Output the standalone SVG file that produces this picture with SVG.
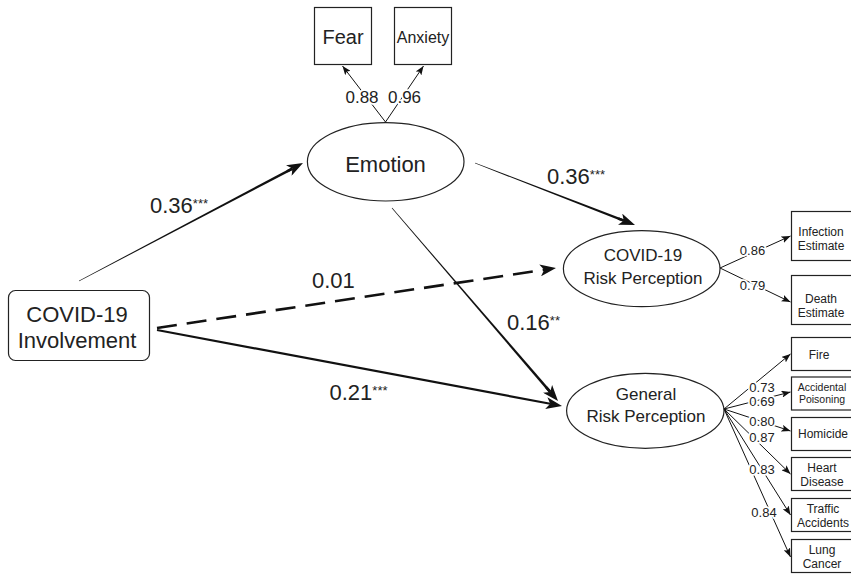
<svg xmlns="http://www.w3.org/2000/svg" width="851" height="576" viewBox="0 0 851 576">
<style>
text{font-family:"Liberation Sans",Arial,sans-serif;fill:#222;text-anchor:middle}
.node rect,.node ellipse{fill:#fff;stroke:#222;stroke-width:1.2}
.big{font-size:22px}
.mid{font-size:17px}
.sm{font-size:12px}
.xs{font-size:10.5px}
.ln{stroke:#111;fill:none}
.thin{stroke-width:1}
.body{fill:#111;stroke:none}
.lbl{text-anchor:start;font-size:22px}
.lbl tspan{font-size:13px}
.halo{stroke:#fff;stroke-width:3.5;paint-order:stroke;stroke-linejoin:round}
.l13{font-size:13px}
.l17{font-size:17px}
</style>
<defs>
<marker id="big" markerUnits="userSpaceOnUse" markerWidth="16" markerHeight="12" viewBox="0 0 16 12" refX="4" refY="6" orient="auto"><path d="M0,0 L16,6 L0,12 L4,6 Z" fill="#111"/></marker>
<marker id="sm" markerUnits="userSpaceOnUse" markerWidth="9" markerHeight="7" viewBox="0 0 9 7" refX="9" refY="3.5" orient="auto"><path d="M0,0 L9,3.5 L0,7 L2,3.5 Z" fill="#111"/></marker>
</defs>

<g id="connectors">
  <!-- Involvement -> Emotion (tapered) -->
  <path class="body" d="M78.86,280.73 L291.77,167.44 L292.99,169.74 L79.14,281.27 Z"/>
  <line class="ln" x1="287.07" y1="171.39" x2="292.38" y2="168.59" stroke-width="2.6" marker-end="url(#big)"/>
  <!-- Emotion -> COVID RP (tapered) -->
  <path class="body" d="M475.11,162.72 L624.28,219.45 L623.34,221.87 L474.89,163.28 Z"/>
  <line class="ln" x1="618.22" y1="218.49" x2="623.81" y2="220.66" stroke-width="2.6" marker-end="url(#big)"/>
  <!-- Emotion -> General RP (tapered) -->
  <path class="body" d="M392.23,207.80 L551.17,391.05 L549.19,392.75 L391.77,208.20 Z"/>
  <line class="ln" x1="546.27" y1="387.35" x2="550.18" y2="391.90" stroke-width="2.6" marker-end="url(#big)"/>
  <!-- Involvement -> COVID RP (dashed) -->
  <line class="ln" x1="157" y1="328" x2="544.13" y2="269.78" stroke-width="2.6" stroke-dasharray="20 10" marker-end="url(#big)"/>
  <!-- Involvement -> General RP -->
  <line class="ln" x1="157" y1="330" x2="550.21" y2="403.79" stroke-width="2.2" marker-end="url(#big)"/>

  <!-- Emotion indicators -->
  <line class="ln thin" x1="385.5" y1="122" x2="342.5" y2="66" marker-end="url(#sm)"/>
  <line class="ln thin" x1="385.5" y1="122" x2="423.5" y2="66" marker-end="url(#sm)"/>
  <!-- COVID RP indicators -->
  <line class="ln thin" x1="720" y1="268" x2="790.5" y2="236" marker-end="url(#sm)"/>
  <line class="ln thin" x1="720" y1="268" x2="790.5" y2="302" marker-end="url(#sm)"/>
  <!-- General RP indicators -->
  <line class="ln thin" x1="724" y1="409" x2="790.5" y2="354" marker-end="url(#sm)"/>
  <line class="ln thin" x1="724" y1="409" x2="790.5" y2="392" marker-end="url(#sm)"/>
  <line class="ln thin" x1="724" y1="409" x2="790.5" y2="431" marker-end="url(#sm)"/>
  <line class="ln thin" x1="724" y1="409" x2="790.5" y2="474" marker-end="url(#sm)"/>
  <line class="ln thin" x1="724" y1="409" x2="790.5" y2="515" marker-end="url(#sm)"/>
  <line class="ln thin" x1="724" y1="409" x2="790.5" y2="557" marker-end="url(#sm)"/>
</g>

<g id="edge-labels">
  <text class="lbl" x="150" y="213">0.36<tspan dy="-5">***</tspan></text>
  <text class="lbl" x="547" y="183.5">0.36<tspan dy="-5">***</tspan></text>
  <text class="lbl" x="312" y="288">0.01</text>
  <text class="lbl" x="507" y="330">0.16<tspan dy="-5">**</tspan></text>
  <text class="lbl" x="329.5" y="400">0.21<tspan dy="-5">***</tspan></text>

  <text class="l17 halo" x="362" y="102.5">0.88</text>
  <text class="l17 halo" x="404.5" y="102.5">0.96</text>

  <text class="l13 halo" x="752.5" y="255">0.86</text>
  <text class="l13 halo" x="752.5" y="290">0.79</text>

  <text class="l13 halo" x="762" y="392">0.73</text>
  <text class="l13 halo" x="762" y="405.5">0.69</text>
  <text class="l13 halo" x="762" y="426">0.80</text>
  <text class="l13 halo" x="762" y="442">0.87</text>
  <text class="l13 halo" x="762" y="474">0.83</text>
  <text class="l13 halo" x="764" y="516.5">0.84</text>
</g>

<g id="n-fear" class="node">
  <rect x="314.5" y="7.5" width="57" height="57"/>
  <text x="343" y="44" font-size="20">Fear</text>
</g>
<g id="n-anxiety" class="node">
  <rect x="394.5" y="7.5" width="57" height="57"/>
  <text x="423" y="42.5" font-size="16">Anxiety</text>
</g>
<g id="n-emotion" class="node">
  <ellipse cx="385.7" cy="161.8" rx="78.3" ry="39.2"/>
  <text class="big" x="385.5" y="171.5">Emotion</text>
</g>
<g id="n-involvement" class="node">
  <rect x="8.5" y="290.5" width="141" height="70" rx="7"/>
  <text class="big" x="77"><tspan x="77" y="321.5">COVID-19</tspan><tspan x="77" y="348">Involvement</tspan></text>
</g>
<g id="n-covidrp" class="node">
  <ellipse cx="641.7" cy="268.7" rx="78.3" ry="38"/>
  <text class="mid"><tspan x="643" y="260.5">COVID-19</tspan><tspan x="643" y="283.5">Risk Perception</tspan></text>
</g>
<g id="n-generalrp" class="node">
  <ellipse cx="645.3" cy="410.8" rx="78.7" ry="37.5"/>
  <text class="mid"><tspan x="646" y="400">General</tspan><tspan x="646" y="422">Risk Perception</tspan></text>
</g>
<g id="n-infection" class="node">
  <rect x="791.5" y="211.5" width="62" height="49"/>
  <text class="sm"><tspan x="821" y="236">Infection</tspan><tspan x="821" y="249.5">Estimate</tspan></text>
</g>
<g id="n-death" class="node">
  <rect x="791.5" y="275.5" width="62" height="49"/>
  <text class="sm"><tspan x="821" y="303">Death</tspan><tspan x="821" y="317">Estimate</tspan></text>
</g>
<g id="n-fire" class="node">
  <rect x="791.5" y="337.5" width="62" height="33"/>
  <text class="sm" x="819" y="358.5">Fire</text>
</g>
<g id="n-poisoning" class="node">
  <rect x="791.5" y="377" width="62" height="33"/>
  <text class="xs"><tspan x="822" y="390.5">Accidental</tspan><tspan x="822" y="402.5">Poisoning</tspan></text>
</g>
<g id="n-homicide" class="node">
  <rect x="791.5" y="417.5" width="62" height="33"/>
  <text class="sm" x="823" y="437.5">Homicide</text>
</g>
<g id="n-heart" class="node">
  <rect x="791.5" y="457.5" width="62" height="33"/>
  <text class="sm"><tspan x="822" y="472">Heart</tspan><tspan x="822" y="486">Disease</tspan></text>
</g>
<g id="n-traffic" class="node">
  <rect x="791.5" y="498.5" width="62" height="33"/>
  <text class="sm"><tspan x="823" y="513">Traffic</tspan><tspan x="823" y="527">Accidents</tspan></text>
</g>
<g id="n-lung" class="node">
  <rect x="791.5" y="539.5" width="62" height="33"/>
  <text class="sm"><tspan x="822" y="554">Lung</tspan><tspan x="822" y="568">Cancer</tspan></text>
</g>
</svg>
